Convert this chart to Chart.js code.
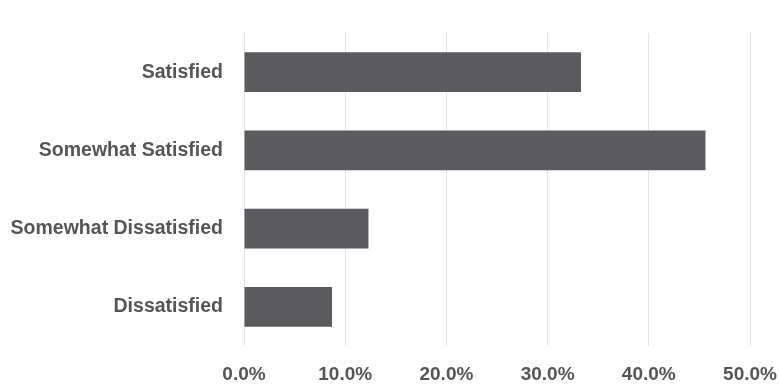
<!DOCTYPE html>
<html>
<head>
<meta charset="utf-8">
<script src="https://cdn.jsdelivr.net/npm/chart.js@4/dist/chart.umd.min.js"></script>
<style>
  html, body { margin: 0; padding: 0; background: #fff; }
  #wrap { width: 779px; height: 384px; }
</style>
</head>
<body>
<div id="wrap"><canvas id="chart"></canvas></div>
<script>
// satisfaction survey, share of responses (%)
const categories = ['Satisfied', 'Somewhat Satisfied', 'Somewhat Dissatisfied', 'Dissatisfied'];
const shares = [33.3, 45.6, 12.3, 8.7];
const tickValues = [0, 10, 20, 30, 40, 50];

const labelFont = { family: '"Liberation Sans", Arial, sans-serif', size: 19.5, weight: 'bold' };

new Chart(document.getElementById('chart'), {
  type: 'bar',
  data: {
    labels: categories,
    datasets: [{
      data: shares,
      backgroundColor: '#5b5b5f',
      borderWidth: 0,
      categoryPercentage: 1,
      barPercentage: 0.51
    }]
  },
  options: {
    indexAxis: 'y',
    responsive: true,
    maintainAspectRatio: false,
    animation: false,
    layout: { padding: { top: 33, right: 29, left: 0, bottom: 0 } },
    plugins: {
      legend: { display: false },
      tooltip: { enabled: false }
    },
    scales: {
      x: {
        min: tickValues[0],
        max: tickValues[tickValues.length - 1],
        afterBuildTicks(scale) {
          scale.ticks = tickValues.map(v => ({ value: v }));
        },
        afterFit(scale) {
          // fixed axis band; edge labels may overhang the plot area
          scale.height = 38;
          scale.paddingLeft = 0;
          scale.paddingRight = 0;
        },
        grid: { color: '#e4e4e4', drawTicks: false },
        border: { display: false },
        ticks: {
          padding: 17,
          maxRotation: 0,
          minRotation: 0,
          color: '#555',
          font: { ...labelFont, size: 19 },
          callback: v => Number(v).toFixed(1) + '%'
        }
      },
      y: {
        grid: { display: false, drawTicks: false },
        border: { display: false },
        afterFit(scale) { scale.width = 244; },
        ticks: {
          padding: 21,
          color: '#555',
          font: labelFont
        }
      }
    }
  }
});
</script>
</body>
</html>
